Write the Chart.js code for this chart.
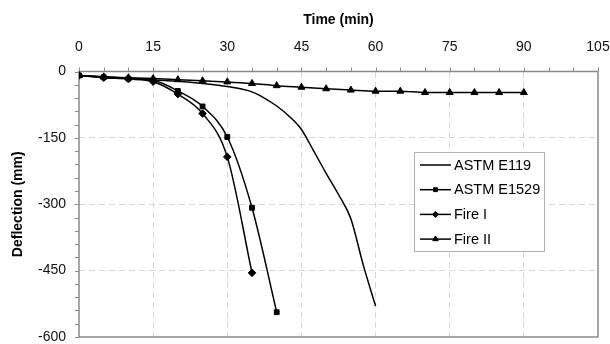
<!DOCTYPE html>
<html>
<head>
<meta charset="utf-8">
<script src="https://cdn.jsdelivr.net/npm/chart.js@4"></script>
<style>
html,body{margin:0;padding:0;background:#fff;}
#wrap{width:610px;height:344px;position:relative;}
</style>
</head>
<body>
<div id="wrap"><canvas id="c" width="610" height="344"></canvas></div>
<script>
// ---- data ----
const seriesNames = ['ASTM E119', 'ASTM E1529', 'Fire I', 'Fire II'];
const e119Time = [0, 5, 10, 15, 20, 25, 30, 35, 37.5, 40, 42.5, 45, 47.5, 50, 52.5, 55, 57.5, 60];
const e119Defl = [-9, -12, -15, -19, -22, -27, -34, -46, -60, -78, -101, -131, -180, -230, -278, -333, -437, -530];
const e1529Time = [0, 5, 10, 15, 20, 25, 30, 35, 40];
const e1529Defl = [-9, -13, -16, -20, -44, -79, -148, -308, -544];
const fire1Time = [0, 5, 10, 15, 20, 25, 30, 35];
const fire1Defl = [-9, -14, -17, -23, -51, -95, -193, -455];
const fire2Time = [0, 5, 10, 15, 20, 25, 30, 35, 40, 45, 50, 55, 60, 65, 70, 75, 80, 85, 90];
const fire2Defl = [-9, -12, -14, -16, -18.5, -21, -23.5, -27, -32, -35.5, -39, -42, -44.5, -44.5, -47.5, -47.5, -47.5, -47.5, -47.5];
const xTicks = [0, 15, 30, 45, 60, 75, 90, 105];
const yTicks = [0, -150, -300, -450, -600];

function pts(t, d) { return t.map((v, i) => ({x: v, y: d[i]})); }

const FONT = "'Liberation Sans', Arial, sans-serif";
const styles = [
  {pointStyle: false, pointRadius: 0},
  {pointStyle: 'rect', pointRadius: 3.4},
  {pointStyle: 'rectRot', pointRadius: 3.8},
  {pointStyle: 'triangle', pointRadius: 4}
];
const rawData = [[e119Time, e119Defl], [e1529Time, e1529Defl], [fire1Time, fire1Defl], [fire2Time, fire2Defl]];

const datasets = rawData.map((r, i) => Object.assign({
  label: seriesNames[i],
  data: pts(r[0], r[1]),
  borderColor: '#000',
  backgroundColor: '#000',
  borderWidth: 1.5,
  pointBorderWidth: 1,
  pointBorderColor: '#000',
  pointBackgroundColor: '#000',
  cubicInterpolationMode: 'monotone',
  fill: false
}, styles[i]));

function noPad(s) { s.paddingTop = 0; s.paddingBottom = 0; s.paddingLeft = 0; s.paddingRight = 0; }

const frame = {
  id: 'frame',
  beforeDatasetsDraw(chart) {
    const {ctx, chartArea: a, scales} = chart;
    ctx.save();
    ctx.strokeStyle = '#8a8a8a';
    ctx.lineWidth = 1.5;
    ctx.strokeRect(a.left, a.top, a.right - a.left, a.bottom - a.top);
    ctx.lineWidth = 1;
    ctx.beginPath();
    for (let v = 0; v <= 105; v += 5) {
      const px = Math.round(scales.x.getPixelForValue(v)) + 0.5;
      ctx.moveTo(px, a.top);
      ctx.lineTo(px, a.top - 4);
    }
    for (let v = 0; v >= -600; v -= 30) {
      const py = Math.round(scales.y.getPixelForValue(v)) + 0.5;
      ctx.moveTo(a.left, py);
      ctx.lineTo(a.left - 4, py);
    }
    ctx.stroke();
    ctx.restore();
  },
  afterDraw(chart) {
    const {ctx} = chart;
    const L = 414, T = 152, W = 130, H = 99;
    ctx.save();
    ctx.fillStyle = '#fff';
    ctx.fillRect(L, T, W, H);
    ctx.strokeStyle = '#b0b0b0';
    ctx.lineWidth = 1;
    ctx.strokeRect(L + 0.5, T + 0.5, W, H);
    ctx.font = '14.5px ' + FONT;
    ctx.textBaseline = 'middle';
    chart.data.datasets.forEach((ds, i) => {
      const y = T + 13 + i * 24.7;
      ctx.strokeStyle = '#000';
      ctx.fillStyle = '#000';
      ctx.lineWidth = 1.5;
      ctx.beginPath();
      ctx.moveTo(420, y);
      ctx.lineTo(451, y);
      ctx.stroke();
      if (ds.pointStyle) {
        ctx.lineWidth = 1;
        Chart.helpers.drawPoint(ctx, {pointStyle: ds.pointStyle, radius: ds.pointRadius * 0.8, borderWidth: 1}, 435.5, y);
      }
      ctx.fillStyle = '#000';
      ctx.fillText(ds.label, 454, y + 0.5);
    });
    ctx.restore();
  }
};

new Chart(document.getElementById('c'), {
  type: 'line',
  data: {datasets},
  options: {
    responsive: false,
    animation: false,
    devicePixelRatio: 1,
    layout: {padding: {left: 0, right: 12, top: 0, bottom: 7}},
    plugins: {legend: {display: false}, tooltip: {enabled: false}},
    scales: {
      x: {
        type: 'linear',
        position: 'top',
        min: 0, max: 105,
        afterFit(s) { s.height = 71.5; noPad(s); },
        afterBuildTicks(s) { s.ticks = xTicks.map(v => ({value: v})); },
        ticks: {color: '#111', font: {family: FONT, size: 14}, padding: 16, maxRotation: 0},
        grid: {
          color: c => (c.tick && (c.tick.value === 0 || c.tick.value === 105)) ? 'rgba(0,0,0,0)' : '#d8d8d8',
          lineWidth: 1,
          tickLength: 0,
          drawTicks: false
        },
        border: {display: false, dash: [6, 4]},
        title: {display: true, text: 'Time (min)', color: '#000', font: {family: FONT, size: 14, weight: 'bold'}, padding: {top: 12, bottom: 0}}
      },
      y: {
        type: 'linear',
        min: -600, max: 0,
        afterFit(s) { s.width = 79; noPad(s); },
        afterBuildTicks(s) { s.ticks = yTicks.map(v => ({value: v})); },
        ticks: {color: '#111', font: {family: FONT, size: 14}, padding: 13},
        grid: {
          color: c => (c.tick && (c.tick.value === 0 || c.tick.value === -600)) ? 'rgba(0,0,0,0)' : '#d8d8d8',
          lineWidth: 1,
          tickLength: 0,
          drawTicks: false
        },
        border: {display: false, dash: [6, 4]},
        title: {display: true, text: 'Deflection (mm)', color: '#000', font: {family: FONT, size: 14, weight: 'bold'}, padding: {top: 10, bottom: 0}}
      }
    }
  },
  plugins: [frame]
});
</script>
</body>
</html>
